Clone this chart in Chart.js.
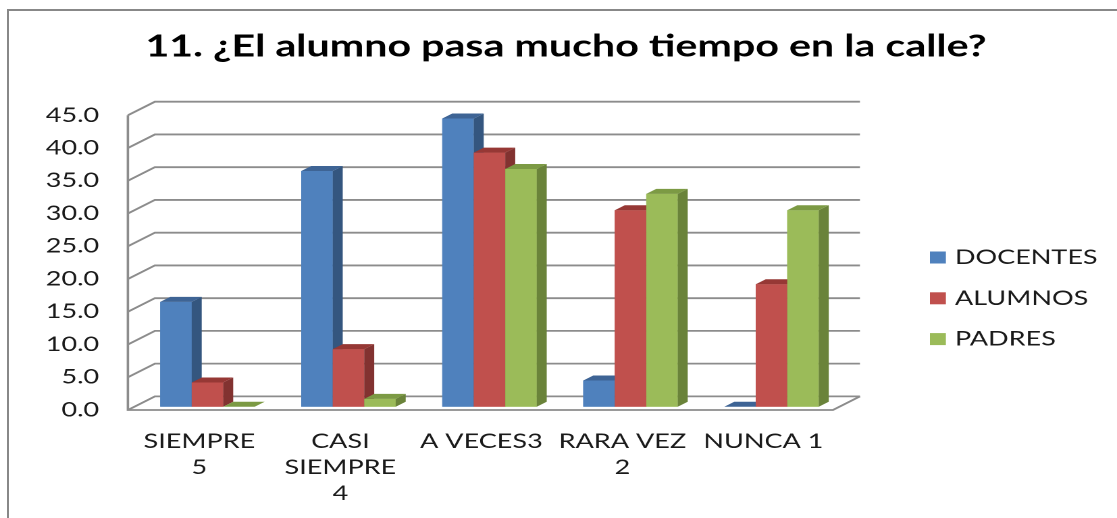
<!DOCTYPE html>
<html>
<head>
<meta charset="utf-8">
<script src="https://cdn.jsdelivr.net/npm/chart.js@4.4.0/dist/chart.umd.min.js"></script>
<style>
  html, body { margin: 0; padding: 0; background: #ffffff; width: 1117px; height: 518px; overflow: hidden; }
  #frame { position: absolute; left: 7px; top: 9px; right: 0; bottom: 0;
           border-top: 2px solid #888888; border-left: 2px solid #888888; }
  #wrap { position: absolute; left: 0; top: 0; width: 827px; height: 518px;
          transform: scaleX(1.35066); transform-origin: 0 0; }
</style>
</head>
<body>
<div id="frame"></div>
<div id="wrap"><canvas id="c" width="827" height="518"></canvas></div>
<script>
// ---------- data ----------
const chartTitle = '11. ¿El alumno pasa mucho tiempo en la calle?';
const categories = [['SIEMPRE', '5'], ['CASI', 'SIEMPRE', '4'], ['A VECES3'], ['RARA VEZ', '2'], ['NUNCA 1']];
const seriesNames = ['DOCENTES', 'ALUMNOS', 'PADRES'];
const docentes = [16.0, 36.0, 44.0, 4.0, 0.0];
const alumnos  = [3.7, 8.8, 38.8, 30.0, 18.7];
const padres   = [0.0, 1.2, 36.3, 32.5, 30.0];
const yTickLabels = ['0.0', '5.0', '10.0', '15.0', '20.0', '25.0', '30.0', '35.0', '40.0', '45.0'];

// ---------- styling ----------
const frontColors = ['#4F81BD', '#C0504D', '#9BBB59'];
const topColors   = ['#3E6495', '#963835', '#7C9A44'];
const sideColors  = ['#34567F', '#823230', '#6A833A'];
const FRONT = { dx: -6.7, dy: 3.3 };    // front plane relative to bar plane
const BACK  = { dx: 13.3, dy: -10.3 };  // back wall relative to bar plane
const DEPTH = { dx: 7.4, dy: -5 };      // bar depth
const LEGEND = { boxX: 688.5, boxW: 11.8, boxH: 12, textX: 707, y0: 257.5, step: 40.8 };

const wallPlugin = {
  id: 'walls',
  beforeDatasetsDraw(chart) {
    const { ctx, chartArea: a } = chart;
    const y = chart.scales.y;
    ctx.save();
    ctx.strokeStyle = '#8c8c8c';
    ctx.lineWidth = 1.8;
    y.ticks.forEach(t => {
      const p = y.getPixelForValue(t.value);
      ctx.beginPath();
      ctx.moveTo(a.left + FRONT.dx, p + FRONT.dy);
      ctx.lineTo(a.left + BACK.dx, p + BACK.dy);
      ctx.lineTo(a.right + BACK.dx, p + BACK.dy);
      ctx.stroke();
    });
    const p0 = y.getPixelForValue(0);
    const pMax = y.getPixelForValue(y.max);
    ctx.beginPath();
    ctx.moveTo(a.left + FRONT.dx, pMax + FRONT.dy);
    ctx.lineTo(a.left + FRONT.dx, p0 + FRONT.dy);
    ctx.lineTo(a.right + FRONT.dx, p0 + FRONT.dy);
    ctx.lineTo(a.right + BACK.dx, p0 + BACK.dy);
    ctx.stroke();
    ctx.restore();
  }
};

function poly(ctx, pts, color) {
  ctx.beginPath();
  ctx.moveTo(pts[0][0], pts[0][1]);
  for (let i = 1; i < pts.length; i++) ctx.lineTo(pts[i][0], pts[i][1]);
  ctx.closePath();
  ctx.fillStyle = color;
  ctx.fill();
}

const bars3dPlugin = {
  id: 'bars3d',
  afterDatasetsDraw(chart) {
    const ctx = chart.ctx;
    ctx.save();
    chart.data.datasets.forEach((ds, i) => {
      const meta = chart.getDatasetMeta(i);
      meta.data.forEach(el => {
        const { x, y, base, width } = el.getProps(['x', 'y', 'base', 'width'], true);
        const l = x - width / 2, r = x + width / 2;
        const top = Math.min(y, base), bot = Math.max(y, base);
        if (bot - top > 0) poly(ctx, [[l, top], [r, top], [r, bot], [l, bot]], frontColors[i]);
        poly(ctx, [[r, top], [r + DEPTH.dx, top + DEPTH.dy], [r + DEPTH.dx, bot + DEPTH.dy], [r, bot]], sideColors[i]);
        poly(ctx, [[l, top], [l + DEPTH.dx, top + DEPTH.dy], [r + DEPTH.dx, top + DEPTH.dy], [r, top]], topColors[i]);
      });
    });
    ctx.restore();
  }
};

const legendPlugin = {
  id: 'customLegend',
  afterDraw(chart) {
    const ctx = chart.ctx;
    ctx.save();
    ctx.font = '20px Lato, "Noto Sans", sans-serif';
    ctx.textBaseline = 'middle';
    ctx.textAlign = 'left';
    chart.data.datasets.forEach((ds, i) => {
      const cy = LEGEND.y0 + i * LEGEND.step;
      ctx.fillStyle = ds.backgroundColor;
      ctx.fillRect(LEGEND.boxX, cy - LEGEND.boxH / 2, LEGEND.boxW, LEGEND.boxH);
      ctx.fillStyle = '#1a1a1a';
      ctx.fillText(ds.label, LEGEND.textX, cy);
    });
    ctx.restore();
  }
};

function build() {
  Chart.defaults.font.family = 'Lato, "Noto Sans", sans-serif';
  Chart.defaults.color = '#1a1a1a';
  new Chart(document.getElementById('c'), {
    type: 'bar',
    data: {
      labels: categories,
      datasets: [
        { label: seriesNames[0], data: docentes, backgroundColor: frontColors[0] },
        { label: seriesNames[1], data: alumnos,  backgroundColor: frontColors[1] },
        { label: seriesNames[2], data: padres,   backgroundColor: frontColors[2] }
      ]
    },
    options: {
      responsive: false,
      devicePixelRatio: 2,
      animation: false,
      layout: { padding: { left: 11, right: 0, top: 0, bottom: 0 } },
      datasets: { bar: { categoryPercentage: 0.67, barPercentage: 1.0, borderWidth: 0 } },
      plugins: {
        legend: { display: false },
        tooltip: { enabled: false },
        title: {
          display: true,
          text: chartTitle,
          color: '#000000',
          font: { size: 30.5, weight: 'bold', lineHeight: 1.2 },
          padding: { top: 28.6, bottom: 46.8 }
        }
      },
      scales: {
        x: {
          type: 'category',
          offset: true,
          grid: { display: false, drawTicks: false },
          border: { display: false },
          ticks: { padding: 21.8, labelOffset: -6, color: '#1a1a1a', font: { size: 20, lineHeight: 1.3 },
                   maxRotation: 0, autoSkip: false },
          afterFit: s => { s.height = 111.3; }
        },
        y: {
          min: 0, max: 45,
          grid: { display: false, drawTicks: false },
          border: { display: false },
          ticks: { stepSize: 5, padding: 28, labelOffset: 3.3, color: '#1a1a1a', font: { size: 20 },
                   callback: (v, i) => yTickLabels[i] },
          afterFit: s => { s.width = 90.4; }
        },
        yR: {
          type: 'linear',
          position: 'right',
          grid: { display: false, drawTicks: false },
          border: { display: false },
          ticks: { display: false },
          afterFit: s => { s.width = 203.6; }
        }
      }
    },
    plugins: [wallPlugin, bars3dPlugin, legendPlugin]
  });
}

const fontLoads = [document.fonts.load('20px Lato'), document.fonts.load('bold 30px Lato')];
Promise.race([Promise.all(fontLoads), new Promise(r => setTimeout(r, 800))]).then(build, build);
</script>
</body>
</html>
